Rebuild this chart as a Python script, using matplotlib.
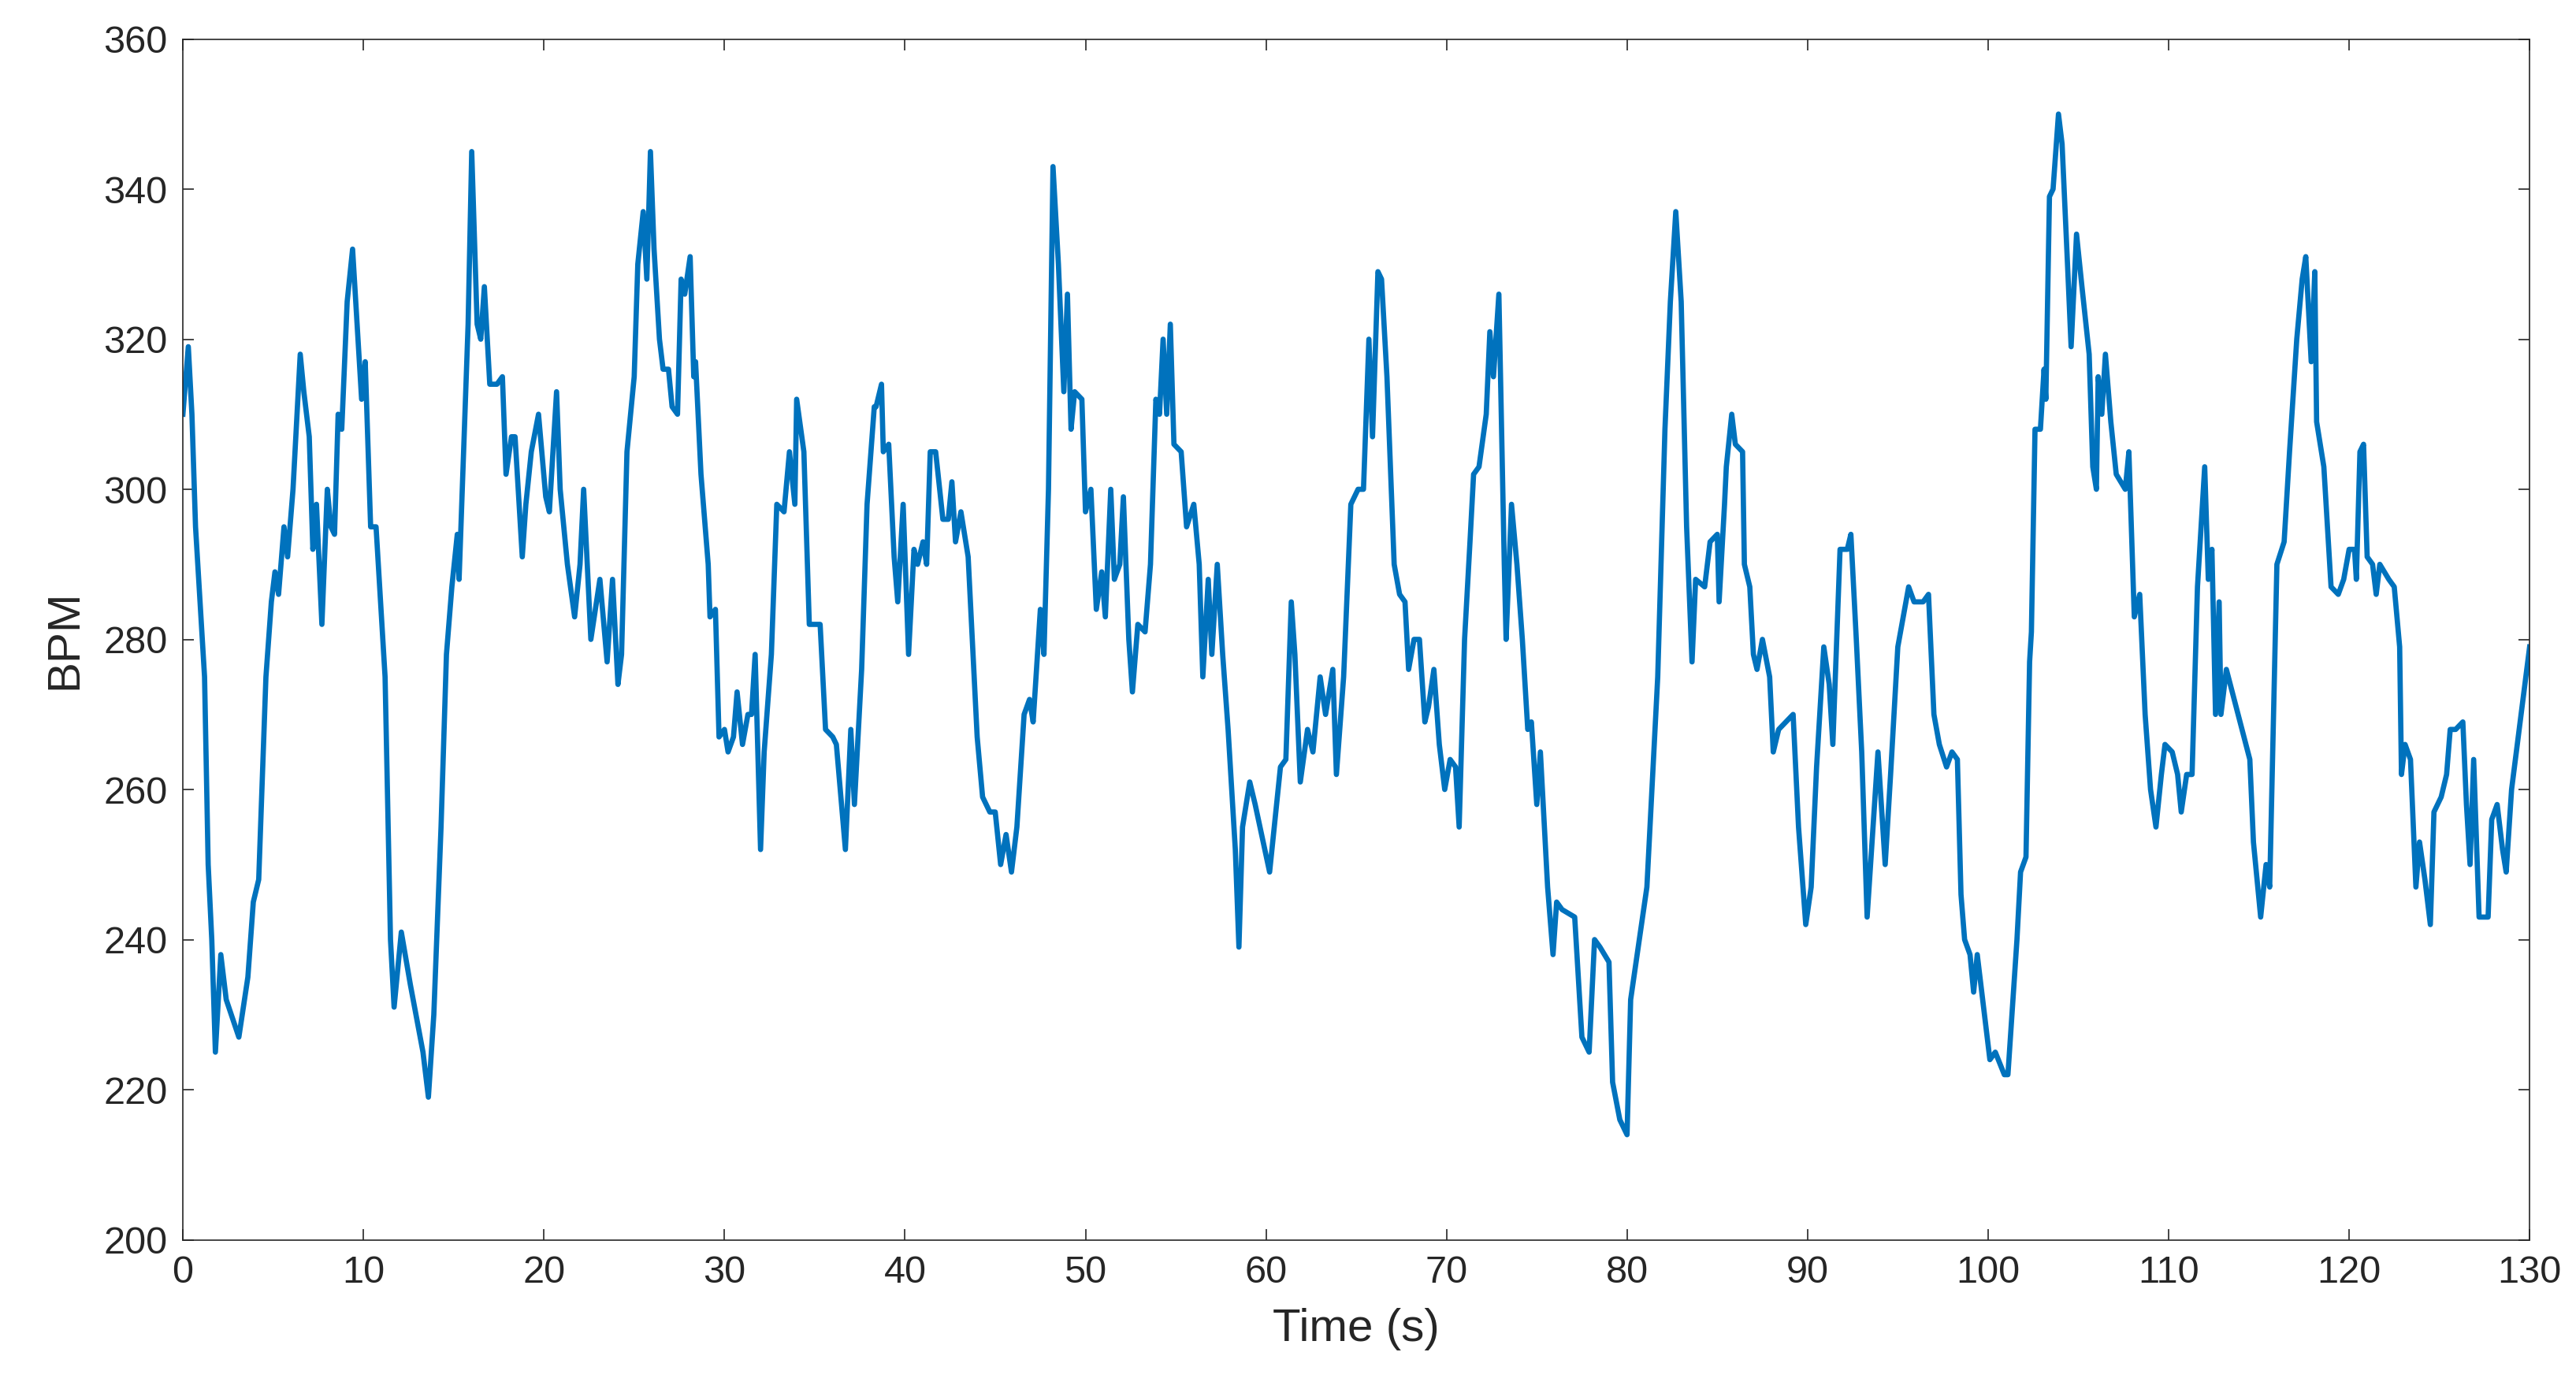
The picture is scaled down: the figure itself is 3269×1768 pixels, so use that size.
import matplotlib
matplotlib.use("Agg")
import matplotlib.pyplot as plt

# time (s) and heart rate (BPM)
time_s = [0, 0.3, 0.5, 0.7, 1.2, 1.4, 1.6, 1.8, 2.1, 2.4, 3.1, 3.6, 3.9, 4.2, 4.6, 4.9, 5.1, 5.3, 5.6, 5.8,
          6.1, 6.5, 6.7, 7.0, 7.2, 7.4, 7.7, 8.0, 8.2, 8.4, 8.6, 8.8, 9.1, 9.4, 9.7, 9.9, 10.1, 10.4, 10.7, 11.2,
          11.5, 11.7, 12.1, 12.6, 13.3, 13.6, 13.9, 14.3, 14.6, 14.9, 15.2, 15.3, 15.8, 16.0, 16.3, 16.5, 16.7, 17.0, 17.4, 17.7,
          17.9, 18.2, 18.4, 18.8, 19.0, 19.3, 19.7, 20.1, 20.3, 20.7, 20.9, 21.3, 21.7, 22.0, 22.2, 22.6, 23.1, 23.5, 23.8, 24.1,
          24.3, 24.6, 25.0, 25.2, 25.5, 25.7, 25.9, 26.1, 26.4, 26.6, 26.9, 27.1, 27.4, 27.6, 27.8, 28.1, 28.3, 28.4, 28.7, 29.1,
          29.2, 29.5, 29.7, 30.0, 30.2, 30.5, 30.7, 31.0, 31.3, 31.5, 31.7, 32.0, 32.2, 32.6, 32.9, 33.3, 33.6, 33.9, 34.0, 34.4,
          34.7, 35.3, 35.6, 36.0, 36.2, 36.7, 37.0, 37.2, 37.6, 37.9, 38.3, 38.4, 38.7, 38.8, 39.1, 39.4, 39.6, 39.9, 40.2, 40.5,
          40.7, 41.0, 41.2, 41.4, 41.7, 42.1, 42.4, 42.6, 42.8, 43.1, 43.5, 44.0, 44.3, 44.7, 45.0, 45.3, 45.6, 45.9, 46.2, 46.6,
          46.9, 47.1, 47.5, 47.7, 47.95, 48.2, 48.5, 48.8, 49.0, 49.2, 49.4, 49.8, 50.0, 50.3, 50.6, 50.9, 51.1, 51.4, 51.6, 51.9,
          52.1, 52.4, 52.6, 52.9, 53.3, 53.6, 53.9, 54.1, 54.3, 54.5, 54.7, 54.9, 55.3, 55.6, 56.0, 56.3, 56.5, 56.8, 57.0, 57.3,
          57.6, 57.9, 58.3, 58.5, 58.7, 59.1, 59.4, 60.2, 60.5, 60.8, 61.1, 61.4, 61.6, 61.9, 62.3, 62.6, 63.0, 63.3, 63.7, 63.9,
          64.3, 64.7, 65.1, 65.4, 65.7, 65.9, 66.2, 66.4, 66.7, 67.1, 67.4, 67.7, 67.9, 68.2, 68.5, 68.8, 69.0, 69.3, 69.6, 69.9,
          70.2, 70.5, 70.7, 71.0, 71.3, 71.5, 71.8, 72.2, 72.4, 72.6, 72.9, 73.2, 73.3, 73.6, 73.9, 74.2, 74.5, 74.7, 75.0, 75.2,
          75.6, 75.9, 76.1, 76.4, 77.1, 77.5, 77.9, 78.2, 78.5, 79.0, 79.2, 79.6, 80.0, 80.2, 81.1, 81.7, 82.1, 82.4, 82.7, 83.0,
          83.3, 83.6, 83.8, 84.3, 84.6, 85.0, 85.1, 85.4, 85.5, 85.8, 86.0, 86.4, 86.5, 86.8, 87.0, 87.2, 87.5, 87.9, 88.1, 88.4,
          88.8, 89.2, 89.5, 89.9, 90.2, 90.5, 90.9, 91.2, 91.4, 91.8, 92.2, 92.4, 92.7, 93.0, 93.3, 93.6, 93.9, 94.3, 94.6, 95.0,
          95.3, 95.6, 95.9, 96.4, 96.7, 97.0, 97.3, 97.7, 98.0, 98.3, 98.5, 98.7, 99.0, 99.2, 99.4, 99.7, 100.1, 100.4, 100.9, 101.1,
          101.6, 101.8, 102.1, 102.3, 102.4, 102.6, 102.9, 103.1, 103.2, 103.4, 103.6, 103.9, 104.1, 104.4, 104.6, 104.9, 105.2, 105.6, 105.8, 106.0,
          106.1, 106.3, 106.5, 106.8, 107.1, 107.6, 107.8, 108.1, 108.4, 108.7, 109.0, 109.3, 109.6, 109.8, 110.2, 110.5, 110.7, 111.0, 111.3, 111.6,
          112.0, 112.2, 112.4, 112.6, 112.8, 112.9, 113.2, 114.5, 114.7, 115.1, 115.4, 115.6, 116.0, 116.4, 116.7, 117.1, 117.4, 117.6, 117.9, 118.1,
          118.2, 118.6, 119.0, 119.4, 119.7, 120.0, 120.3, 120.4, 120.6, 120.8, 121.0, 121.3, 121.5, 121.7, 122.2, 122.5, 122.8, 122.9, 123.1, 123.4,
          123.7, 123.9, 124.2, 124.5, 124.7, 125.1, 125.4, 125.6, 125.9, 126.3, 126.5, 126.7, 126.9, 127.2, 127.7, 127.9, 128.2, 128.5, 128.7, 129.0,
          130.0]

bpm = [310, 319, 310, 295, 275, 250, 240, 225, 238, 232, 227, 235, 245, 248, 275, 285, 289, 286, 295, 291,
       300, 318, 313, 307, 292, 298, 282, 300, 295, 294, 310, 308, 325, 332, 320, 312, 317, 295, 295, 275,
       240, 231, 241, 234, 225, 219, 230, 255, 278, 287, 294, 288, 322, 345, 322, 320, 327, 314, 314, 315,
       302, 307, 307, 291, 298, 305, 310, 299, 297, 313, 300, 290, 283, 290, 300, 280, 288, 277, 288, 274,
       278, 305, 315, 330, 337, 328, 345, 332, 320, 316, 316, 311, 310, 328, 326, 331, 315, 317, 302, 290,
       283, 284, 267, 268, 265, 267, 273, 266, 270, 270, 278, 252, 265, 278, 298, 297, 305, 298, 312, 305,
       282, 282, 268, 267, 266, 252, 268, 258, 276, 298, 311, 311, 314, 305, 306, 291, 285, 298, 278, 292,
       290, 293, 290, 305, 305, 296, 296, 301, 293, 297, 291, 267, 259, 257, 257, 250, 254, 249, 255, 270,
       272, 269, 284, 278, 300, 343, 330, 313, 326, 308, 313, 312, 297, 300, 284, 289, 283, 300, 288, 290,
       299, 280, 273, 282, 281, 290, 312, 310, 320, 310, 322, 306, 305, 295, 298, 290, 275, 288, 278, 290,
       278, 268, 252, 239, 255, 261, 258, 249, 256, 263, 264, 285, 278, 261, 268, 265, 275, 270, 276, 262,
       275, 298, 300, 300, 320, 307, 329, 328, 315, 290, 286, 285, 276, 280, 280, 269, 271, 276, 266, 260,
       264, 263, 255, 280, 293, 302, 303, 310, 321, 315, 326, 290, 280, 298, 290, 280, 268, 269, 258, 265,
       247, 238, 245, 244, 243, 227, 225, 240, 239, 237, 221, 216, 214, 232, 247, 275, 308, 325, 337, 325,
       295, 277, 288, 287, 293, 294, 285, 298, 303, 310, 306, 305, 290, 287, 278, 276, 280, 275, 265, 268,
       269, 270, 255, 242, 247, 263, 279, 274, 266, 292, 292, 294, 280, 265, 243, 254, 265, 250, 262, 279,
       283, 287, 285, 285, 286, 270, 266, 263, 265, 264, 246, 240, 238, 233, 238, 232, 224, 225, 222, 222,
       240, 249, 251, 277, 281, 308, 308, 316, 312, 339, 340, 350, 346, 330, 319, 334, 327, 318, 303, 300,
       315, 310, 318, 309, 302, 300, 305, 283, 286, 270, 260, 255, 262, 266, 265, 262, 257, 262, 262, 287,
       303, 288, 292, 270, 285, 270, 276, 264, 253, 243, 250, 247, 290, 293, 305, 320, 328, 331, 317, 329,
       309, 303, 287, 286, 288, 292, 292, 288, 305, 306, 291, 290, 286, 290, 288, 287, 279, 262, 266, 264,
       247, 253, 248, 242, 257, 259, 262, 268, 268, 269, 258, 250, 264, 243, 243, 256, 258, 252, 249, 260,
       279]

x_ticks = list(range(0, 131, 10))
y_ticks = list(range(200, 361, 20))

plt.rcParams['font.family'] = ['Liberation Sans', 'DejaVu Sans']

fig = plt.figure(figsize=(16.345, 8.84), dpi=200)
ax = fig.add_axes([0.071, 0.11, 0.911, 0.862])
ax.plot(time_s, bpm, color='#0072BD', lw=2.4)
ax.set_xlim(0, 130)
ax.set_ylim(200, 360)
ax.set_xticks(x_ticks)
ax.set_yticks(y_ticks)
ax.tick_params(direction='in', top=True, right=True, labelsize=17.5, length=5, width=0.6,
               colors='#262626', pad=7)
for s in ax.spines.values():
    s.set_linewidth(0.6)
    s.set_color('#262626')
ax.set_xlabel('Time (s)', fontsize=21, color='#262626', labelpad=8)
ax.set_ylabel('BPM', fontsize=21, color='#262626', labelpad=8)
fig.savefig('out.png', dpi=200)
